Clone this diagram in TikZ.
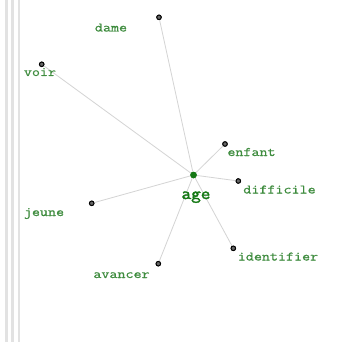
\documentclass[tikz,border=0pt]{standalone}
\usepackage{fontspec}
\newfontfamily\lblfont{Latin Modern Mono}[FakeStretch=1.2,FakeBold=0.7]
\newfontfamily\agefont{Latin Modern Mono}[FakeStretch=1.1,FakeBold=2.2]
\definecolor{lbl}{RGB}{62,140,62}
\definecolor{agec}{RGB}{20,120,20}
\definecolor{edge}{RGB}{212,212,212}
\definecolor{bar}{RGB}{226,226,226}
\begin{document}
\begin{tikzpicture}[x=1pt,y=-1pt,
  word/.style={anchor=base,inner sep=0pt,text=lbl,font=\lblfont\fontsize{13}{15}\selectfont},
  dot/.style={circle,draw=black,fill=black!60,line width=0.9pt,inner sep=0pt,minimum size=4.5pt},
  hubdot/.style={circle,fill=agec,inner sep=0pt,minimum size=6.5pt},
  link/.style={draw=edge,line width=0.8pt}]
\useasboundingbox[fill=white] (0,0) rectangle (363,342);
\fill[bar] (5,0) rectangle (8,342);
\fill[bar] (11,0) rectangle (14,342);
\fill[bar] (18,0) rectangle (20,342);
\node[hubdot] (c) at (193.5,175) {};
\node[dot] (d1) at (159,17.3) {};
\node[dot] (d2) at (41.7,64.3) {};
\node[dot] (d3) at (225,144) {};
\node[dot] (d4) at (238.3,181) {};
\node[dot] (d5) at (233.3,248.3) {};
\node[dot] (d6) at (158.3,263.7) {};
\node[dot] (d7) at (91.7,203.3) {};
\foreach \n in {d1,d2,d3,d4,d5,d6,d7} {\path[link] (c) -- (\n);}
\node[hubdot] at (c) {};
\foreach \n in {d1,d2,d3,d4,d5,d6,d7} {\node[dot] at (\n) {};}
\node[word] (l1) at (111,31.5) {dame};
\node[word] (l2) at (40,76) {voir};
\node[word] (l3) at (251.5,156) {enfant};
\node[word] (l4) at (279.5,193.5) {difficile};
\node[word] (l5) at (278,260.5) {identifier};
\node[word] (l6) at (121.5,278) {avancer};
\node[word] (l7) at (44,216) {jeune};
\node[anchor=base,inner sep=0pt,text=agec,font=\agefont\fontsize{17}{19}\selectfont] (age) at (196,199) {age};
\end{tikzpicture}
\end{document}
